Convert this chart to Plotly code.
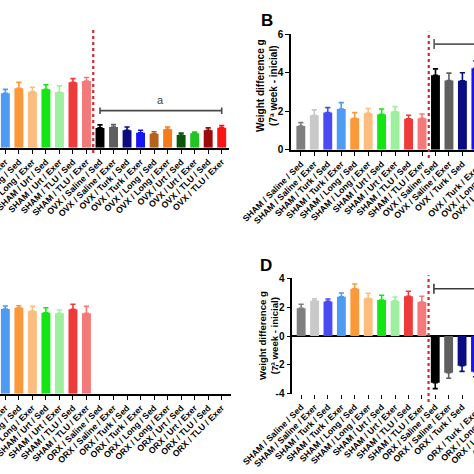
import plotly.graph_objects as go

W, H = 474, 474

# ---------------- data ----------------
sham_labels = ["SHAM / Saline / Sed", "SHAM / Saline / Exer", "SHAM / Turk / Sed", "SHAM / Turk / Exer",
               "SHAM / Long / Sed", "SHAM / Long / Exer", "SHAM / Urt / Sed", "SHAM / Urt / Exer",
               "SHAM / TLU / Sed", "SHAM / TLU / Exer"]
ovx_labels = ["OVX / Saline / Sed", "OVX / Saline / Exer", "OVX / Turk / Sed", "OVX / Turk / Exer",
              "OVX / Long / Sed", "OVX / Long / Exer", "OVX / Urt / Sed", "OVX / Urt / Exer",
              "OVX / TLU / Sed", "OVX / TLU / Exer"]
orx_labels = ["ORX / Saline / Sed", "ORX / Saline / Exer", "ORX / Turk / Sed", "ORX / Turk / Exer",
              "ORX / Long / Sed", "ORX / Long / Exer", "ORX / Urt / Sed", "ORX / Urt / Exer",
              "ORX / TLU / Sed", "ORX / TLU / Exer"]
female_cats = sham_labels + ovx_labels
male_cats = sham_labels + orx_labels

bar_colors = ["#7f7f7f", "#c9c9c9", "#4a4af2", "#4d9bf3", "#fb983a", "#fdbd7e", "#14e614", "#9ef09e",
              "#ef3a3a", "#f47a7a",
              "#000000", "#5f5f5f", "#0b0b82", "#1616f2", "#b4621c", "#f57a1a", "#0c560c", "#22c422",
              "#9e0a0a", "#fb1414"]

a_vals = [2.70, 2.90, 2.80, 2.83, 3.09, 2.92, 3.04, 2.89, 3.41, 3.47,
          1.03, 1.08, 0.91, 0.78, 0.73, 0.96, 0.66, 0.75, 0.91, 1.04]
a_err = [0.20, 0.20, 0.20, 0.21, 0.31, 0.23, 0.24, 0.33, 0.19, 0.19,
         0.16, 0.12, 0.17, 0.13, 0.10, 0.12, 0.10, 0.07, 0.12, 0.11]

b_vals = [1.23, 1.79, 1.93, 2.12, 1.63, 1.90, 1.84, 1.98, 1.61, 1.63,
          3.87, 3.60, 3.58, 4.24, 3.90, 3.80, 3.70, 3.90, 3.80, 4.00]
b_err = [0.18, 0.28, 0.26, 0.33, 0.30, 0.24, 0.28, 0.26, 0.18, 0.23,
         0.33, 0.38, 0.42, 0.38, 0.35, 0.35, 0.35, 0.35, 0.35, 0.35]

c_vals = [4.30, 4.40, 4.35, 4.41, 4.48, 4.31, 4.22, 4.19, 4.40, 4.19,
          None, None, None, None, None, None, None, None, None, None]
c_err = [0.20, 0.20, 0.20, 0.16, 0.10, 0.24, 0.26, 0.17, 0.26, 0.36,
         None, None, None, None, None, None, None, None, None, None]

d_vals = [1.92, 2.45, 2.40, 2.72, 3.28, 2.61, 2.49, 2.45, 2.75, 2.36,
          -3.24, -2.54, -2.06, -2.47, -2.60, -2.30, -2.50, -2.40, -2.20, -2.50]
d_err = [0.28, 0.13, 0.16, 0.26, 0.32, 0.35, 0.33, 0.25, 0.35, 0.40,
         0.41, 0.39, 0.39, 0.35, 0.35, 0.35, 0.35, 0.35, 0.35, 0.35]

y_ticks_b = [0, 2, 4, 6]
y_ticks_d = [-4, -2, 0, 2, 4]
y_ticktext_d = ["-4", "-2", "0", "2", "4"]

y_title = "Weight difference g<br>(7ª week - inicial)"

# ---------------- layout geometry ----------------
FONT = "Liberation Sans"
panels = {
    # name: (xaxis, yaxis, xdomain, xrange, ydomain, yrange, cats, vals, errs)
    "A": ("x", "y", [0.0, 229 / W], [2.604, 19.54], [1 - 147.7 / H, 1 - 32.5 / H], [0, 6], female_cats, a_vals, a_err),
    "B": ("x2", "y2", [291 / W, 1.0], [-0.73, 12.86], [1 - 149.7 / H, 1 - 34.3 / H], [0, 6], female_cats, b_vals, b_err),
    "C": ("x3", "y3", [0.0, 230.7 / W], [2.604, 19.67], [1 - 393.7 / H, 1 - 278.5 / H], [0, 6], male_cats, c_vals, c_err),
    "D": ("x4", "y4", [292.3 / W, 1.0], [-0.66, 12.89], [1 - 393.7 / H, 1 - 278.3 / H], [-4, 4], male_cats, d_vals, d_err),
}

fig = go.Figure()

for name, (xa, ya, xd, xr, yd, yr, cats, vals, errs) in panels.items():
    for cat, v, e, col in zip(cats, vals, errs, bar_colors):
        if v is None:
            continue
        up = e if v >= 0 else 0
        down = e if v < 0 else 0
        fig.add_trace(go.Bar(
            x=[cat], y=[v], width=0.66, xaxis=xa, yaxis=ya,
            marker=dict(color=col, line=dict(width=0)),
            error_y=dict(type="data", symmetric=False, array=[up], arrayminus=[down],
                         color=col, thickness=1.6, width=2.6),
            showlegend=False, hoverinfo="skip",
        ))

tickfont = dict(family=FONT, size=8.7, color="black", weight="bold")
ytickfont = dict(family=FONT, size=10, color="black", weight="bold")

layout_axes = {}
for i, (name, (xa, ya, xd, xr, yd, yr, cats, vals, errs)) in enumerate(panels.items()):
    xkey = "xaxis" if xa == "x" else "xaxis" + xa[1:]
    ykey = "yaxis" if ya == "y" else "yaxis" + ya[1:]
    show_x_line = name != "D"
    layout_axes[xkey] = dict(
        domain=xd, range=xr, anchor=ya, type="category", automargin=False,
        categoryorder="array", categoryarray=cats,
        showline=show_x_line, linecolor="black", linewidth=1.6,
        ticks="outside", ticklen=4, tickwidth=1.4, tickcolor="black",
        tickangle=-45, tickfont=tickfont, showgrid=False, zeroline=False,
    )
    ydict = dict(domain=yd, range=yr, anchor=xa, showgrid=False, automargin=False)
    if name in ("A", "C"):
        ydict.update(visible=False, zeroline=False)
    elif name == "B":
        ydict.update(showline=True, linecolor="black", linewidth=1.6, ticks="outside", ticklen=4,
                     tickwidth=1.4, tickcolor="black", tickvals=y_ticks_b, tickfont=ytickfont,
                     zeroline=False)
    else:
        ydict.update(showline=True, linecolor="black", linewidth=1.6, ticks="outside", ticklen=4,
                     tickwidth=1.4, tickcolor="black", tickvals=y_ticks_d, ticktext=y_ticktext_d,
                     tickfont=ytickfont, zeroline=True, zerolinecolor="black", zerolinewidth=1.8)
    layout_axes[ykey] = ydict

fig.update_layout(
    template="none",
    width=W, height=H, margin=dict(l=0, r=0, t=0, b=0, autoexpand=False),
    paper_bgcolor="white", plot_bgcolor="white",
    barmode="overlay", showlegend=False,
    font=dict(family=FONT, color="black"),
    **layout_axes,
)

shapes = []
red = "#d42a35"
# dashed separators between SHAM and OVX/ORX groups
shapes.append(dict(type="line", xref="x", yref="paper", x0=9.5, x1=9.5, y0=1 - 153 / H, y1=1 - 28 / H,
                   line=dict(color=red, width=2.2, dash="3px,3px")))
shapes.append(dict(type="line", xref="x2", yref="paper", x0=9.5, x1=9.5, y0=1 - 158 / H, y1=1 - 31.7 / H,
                   line=dict(color=red, width=2.2, dash="3px,3px")))
shapes.append(dict(type="line", xref="x4", yref="paper", x0=9.5, x1=9.5, y0=1 - 402 / H, y1=1 - 275.3 / H,
                   line=dict(color=red, width=2.2, dash="3px,3px")))

# significance brackets
def bracket(xr, yr, xs, xe, yv, tick, color):
    shapes.append(dict(type="line", xref=xr, yref=yr, x0=xs, x1=xe, y0=yv, y1=yv, line=dict(color=color, width=1.6)))
    shapes.append(dict(type="line", xref=xr, yref=yr, x0=xs, x1=xs, y0=yv - tick, y1=yv + tick, line=dict(color=color, width=1.6)))
    shapes.append(dict(type="line", xref=xr, yref=yr, x0=xe, x1=xe, y0=yv - tick, y1=yv + tick, line=dict(color=color, width=1.6)))

bracket("x", "y", 10, 19, 1.93, 0.17, "#4a4a4a")
bracket("x2", "y2", 9.9, 19, 5.49, 0.26, "#5a5a5a")
bracket("x4", "y4", 9.9, 19, 3.28, 0.35, "#3a3a3a")

annotations = [
    dict(text="a", xref="x", yref="y", x=14.5, y=2.5, showarrow=False,
         font=dict(family=FONT, size=11, color="#444444")),
    dict(text="B", xref="paper", yref="paper", x=267 / W, y=1 - 20 / H, showarrow=False,
         xanchor="center", yanchor="middle",
         font=dict(family=FONT, size=17, color="black", weight="bold")),
    dict(text="D", xref="paper", yref="paper", x=266 / W, y=1 - 265.5 / H, showarrow=False,
         xanchor="center", yanchor="middle",
         font=dict(family=FONT, size=17, color="black", weight="bold")),
    dict(text=y_title, xref="paper", yref="paper", x=267 / W, y=1 - 86 / H, showarrow=False,
         xanchor="center", yanchor="middle",
         textangle=-90, font=dict(family=FONT, size=10, color="black", weight="bold")),
    dict(text=y_title, xref="paper", yref="paper", x=268 / W, y=1 - 336 / H, showarrow=False,
         xanchor="center", yanchor="middle",
         textangle=-90, font=dict(family=FONT, size=9.6, color="black", weight="bold")),
]

# tick labels of categories lying past the right edge of the cropped panels B and D
LBL_DX, LBL_DY = 9, 10
for name in ("B", "D"):
    xa, ya, xd, xr, yd, yr, cats, vals, errs = panels[name]
    px0 = xd[0] * W
    scale = (xd[1] - xd[0]) * W / (xr[1] - xr[0])
    base_y = (1 - yd[0]) * H
    for idx, lab in enumerate(cats):
        if idx <= xr[1]:
            continue
        px = px0 + (idx - xr[0]) * scale
        annotations.append(dict(
            text=lab, xref="paper", yref="paper", x=(px + LBL_DX) / W, y=1 - (base_y + LBL_DY) / H,
            xanchor="right", yanchor="top", textangle=-45, showarrow=False,
            font=tickfont,
        ))

fig.update_layout(shapes=shapes, annotations=annotations)
fig.write_html("out.html", config={"displayModeBar": False},
               post_script="document.body.style.margin='0';document.body.style.overflow='hidden';")
